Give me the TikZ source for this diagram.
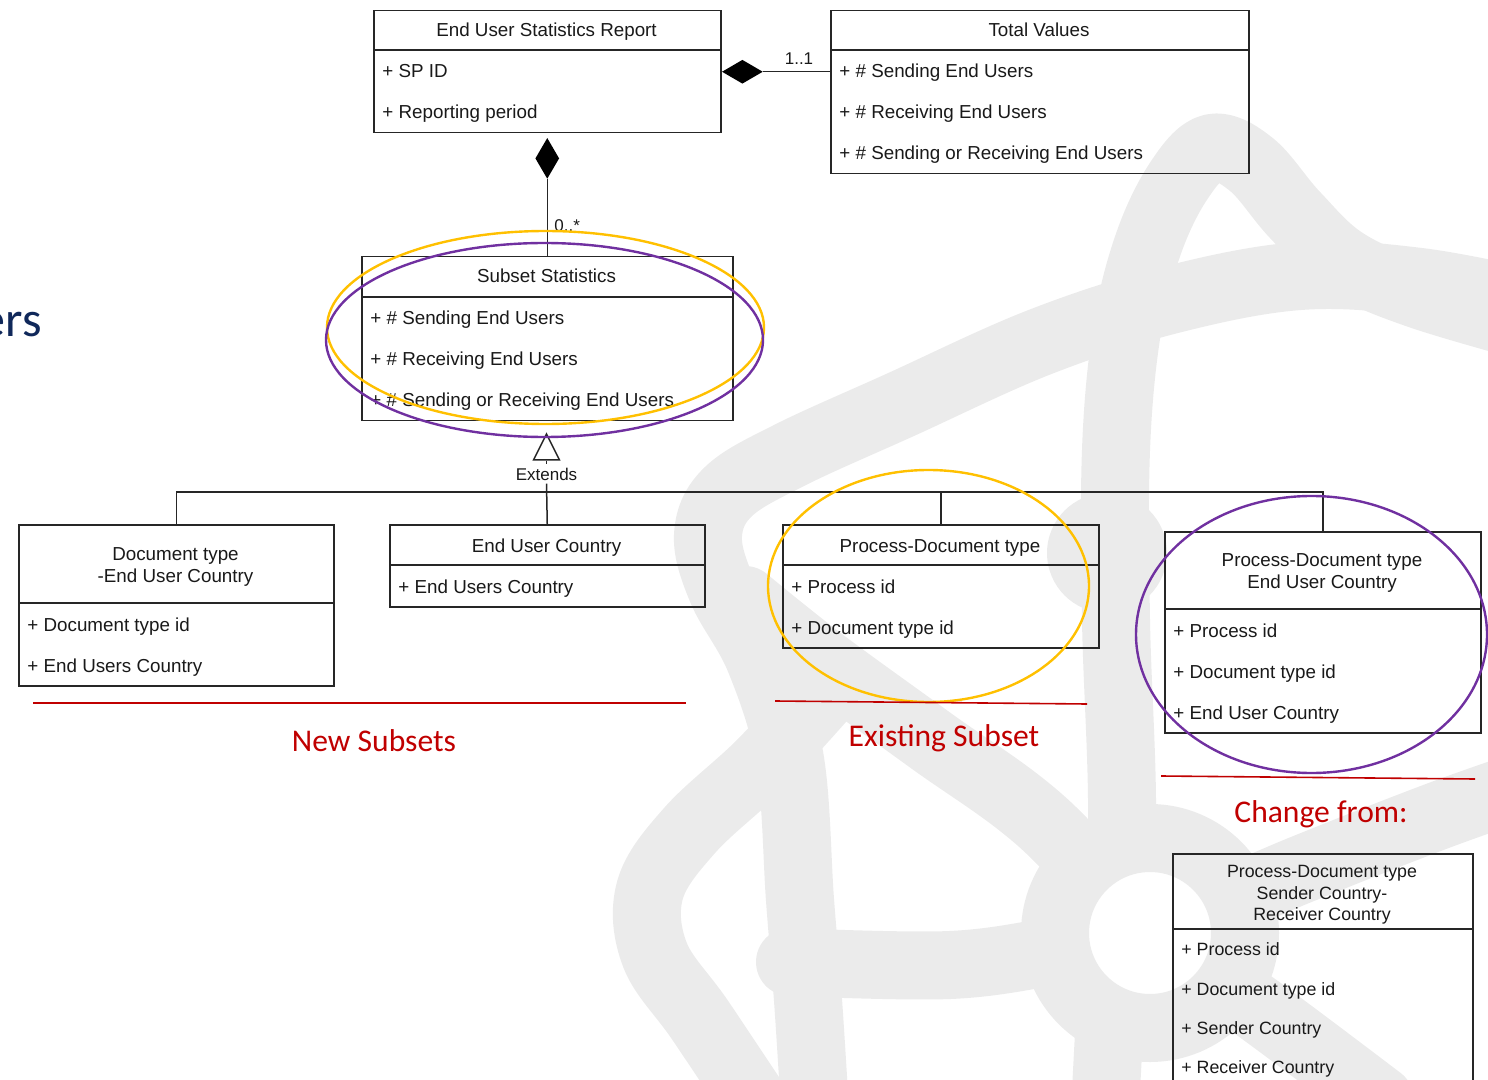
\documentclass[tikz,border=0pt]{standalone}
\usepackage{fontspec}
\setmainfont{Liberation Sans}
\newfontfamily\calfont{Carlito}
\usetikzlibrary{shapes.geometric,calc}
\definecolor{wm}{HTML}{EBEBEB}
\definecolor{redc}{HTML}{C00000}
\definecolor{purp}{HTML}{7030A0}
\definecolor{yel}{HTML}{FFC000}
\definecolor{navy}{HTML}{10285A}
\tikzset{
  umlbox/.style={draw=black!85, line width=0.75pt, rectangle, inner sep=0, anchor=north west},
  divider/.style={draw=black!85, line width=0.75pt},
  conn/.style={draw=black!85, line width=0.75pt},
  hdr/.style={anchor=base, inner sep=0, font=\fontsize{9.4}{11}\selectfont, text=black!90},
  attr/.style={anchor=base west, inner sep=0, font=\fontsize{9.4}{11}\selectfont, text=black!90},
  shdr/.style={anchor=base, inner sep=0, font=\fontsize{8.9}{10}\selectfont, text=black!90},
  sattr/.style={anchor=base west, inner sep=0, font=\fontsize{8.9}{10}\selectfont, text=black!90},
  lbl/.style={inner sep=0, font=\fontsize{8.5}{10}\selectfont, text=black!90},
  redtxt/.style={anchor=base, inner sep=0, font=\calfont\fontsize{15.8}{18}\selectfont, text=redc},
  redline/.style={draw=redc, line width=0.8pt},
  wmband/.style={draw=wm, line width=34pt, line cap=round, line join=round},
  hilite/.style={ellipse, inner sep=0, line width=1.2pt},
}
\begin{document}
\begin{tikzpicture}[x=0.5pt,y=-0.5pt]
\useasboundingbox (0,0) rectangle (1488,1080);

% ---- watermark (atom logo) ----
\draw[wmband] plot[smooth, tension=0.6] coordinates {(1105,1110) (1112,980) (1122,820) (1116,620) (1116,450) (1127,330) (1148,245) (1178,182) (1212,148) (1252,165) (1295,215) (1345,262) (1420,295) (1540,330)};
\draw[wmband] plot[smooth, tension=0.6] coordinates {(1540,305) (1420,282) (1300,276) (1170,300) (1040,342) (900,405) (790,455) (728,492) (708,535) (722,590) (760,660) (790,760) (800,900) (808,1000) (815,1110)};
\draw[wmband] plot[smooth, tension=0.6] coordinates {(745,600) (820,660) (930,740) (1040,820) (1150,933) (1260,1010) (1380,1100)};
\draw[wmband] plot[smooth, tension=0.6] coordinates {(820,700) (760,765) (690,830) (650,890) (655,955) (700,1020) (760,1110)};
\draw[wmband] plot[smooth, tension=0.6] coordinates {(790,962) (950,965) (1060,950) (1150,933) (1300,870) (1440,815) (1540,780)};
\fill[wm] (1107,553) circle[radius=30pt];
\draw[wm, line width=34pt, fill=white] (1150,933) circle[radius=47.5pt];

% ---- cut-off title text at left ----
\node[anchor=base east, inner sep=0, font=\calfont\fontsize{25}{28}\selectfont, text=navy] (title) at (42,337) {ers};

% ---- class boxes ----
\node[umlbox, minimum width=173.5pt, minimum height=61pt] (b1) at (373,10) {};
\draw[divider] (373,50) -- (720,50);
\node[hdr] (b1h) at (546.5,37) {End User Statistics Report};
\node[attr] (b1a) at (382,78) {+ SP ID};
\node[attr] (b1b) at (382,119) {+ Reporting period};

\node[umlbox, minimum width=209pt, minimum height=81.5pt] (b2) at (830,10) {};
\draw[divider] (830,50) -- (1248,50);
\node[hdr] (b2h) at (1039,37) {Total Values};
\node[attr] (b2a) at (839,78) {+ \# Sending End Users};
\node[attr] (b2b) at (839,119) {+ \# Receiving End Users};
\node[attr] (b2c) at (839,160) {+ \# Sending or Receiving End Users};

\node[umlbox, minimum width=185.5pt, minimum height=82pt] (b3) at (361,256) {};
\draw[divider] (361,297) -- (732,297);
\node[hdr] (b3h) at (546.5,283) {Subset Statistics};
\node[attr] (b3a) at (370,325) {+ \# Sending End Users};
\node[attr] (b3b) at (370,366) {+ \# Receiving End Users};
\node[attr] (b3c) at (370,407) {+ \# Sending or Receiving End Users};

\node[umlbox, minimum width=157.5pt, minimum height=80.5pt] (b4) at (18,524) {};
\draw[divider] (18,603) -- (333,603);
\node[hdr] (b4h1) at (175.5,560) {Document type};
\node[hdr] (b4h2) at (175.5,582) {-End User Country};
\node[attr] (b4a) at (27,631) {+ Document type id};
\node[attr] (b4b) at (27,672) {+ End Users Country};

\node[umlbox, minimum width=157.5pt, minimum height=41pt] (b5) at (389,524) {};
\draw[divider] (389,565) -- (704,565);
\node[hdr] (b5h) at (546.5,552) {End User Country};
\node[attr] (b5a) at (398,593) {+ End Users Country};

\node[umlbox, minimum width=158pt, minimum height=61.5pt] (b6) at (782,524) {};
\draw[divider] (782,565) -- (1098,565);
\node[hdr] (b6h) at (940,552) {Process-Document type};
\node[attr] (b6a) at (791,593) {+ Process id};
\node[attr] (b6b) at (791,634) {+ Document type id};

\node[umlbox, minimum width=158pt, minimum height=100.5pt] (b7) at (1164,531) {};
\draw[divider] (1164,609) -- (1480,609);
\node[hdr] (b7h1) at (1322,566) {Process-Document type};
\node[hdr] (b7h2) at (1322,588) {End User Country};
\node[attr] (b7a) at (1173,637) {+ Process id};
\node[attr] (b7b) at (1173,678) {+ Document type id};
\node[attr] (b7c) at (1173,719) {+ End User Country};

\node[umlbox, minimum width=150pt, minimum height=125pt] (b8) at (1172,853) {};
\draw[divider] (1172,929) -- (1472,929);
\node[shdr] (b8h1) at (1322,877) {Process-Document type};
\node[shdr] (b8h2) at (1322,899) {Sender Country-};
\node[shdr] (b8h3) at (1322,920) {Receiver Country};
\node[sattr] (b8a) at (1181,955) {+ Process id};
\node[sattr] (b8b) at (1181,995) {+ Document type id};
\node[sattr] (b8c) at (1181,1034) {+ Sender Country};
\node[sattr] (b8d) at (1181,1073) {+ Receiver Country};

% ---- composition connectors ----
\node[diamond, fill=black, inner sep=0, minimum width=20.5pt, minimum height=12pt, anchor=west] (d1) at (b1.east) {};
\draw[conn] (d1.east) -- (d1.east -| b2.west);
\node[lbl, anchor=base] (m1) at (799,65) {1..1};

\node[diamond, fill=black, inner sep=0, minimum width=12pt, minimum height=20.5pt, anchor=north] (d2) at ([yshift=-2pt]b1.south) {};
\draw[conn] (d2.south) -- (b3.north);
\node[lbl, anchor=base west] (m2) at (554,232) {0..*};

% ---- generalisation ----
\node[isosceles triangle, draw=black!85, line width=0.75pt, fill=white, shape border rotate=90, isosceles triangle stretches, minimum width=13pt, minimum height=13pt, inner sep=0, anchor=apex] (tri) at (546.5,432) {};
\node[lbl, inner sep=1.5pt] (ext) at (546.5,474) {Extends};
\coordinate (bus) at (546.5,492);
\draw[conn] (tri.lower side) -- (ext.north);
\draw[conn] (ext.south) -- (b5.north);
\draw[conn] (b4.north) -- (b4.north |- bus) -- (b7.north |- bus) -- (b7.north);
\draw[conn] (b6.north |- bus) -- (b6.north);

% ---- highlight ellipses ----
\node[hilite, draw=yel, minimum width=218.5pt, minimum height=96.5pt] (e1) at (545.5,327.5) {};
\node[hilite, draw=purp, minimum width=218.5pt, minimum height=97pt] (e2) at (544.5,340) {};
\node[hilite, draw=yel, minimum width=160.5pt, minimum height=116pt] (e3) at (928.5,586) {};
\node[hilite, draw=purp, minimum width=175.5pt, minimum height=138.5pt] (e4) at (1311.5,634.5) {};

% ---- red section labels ----
\draw[redline] (33,703) -- (686,703);
\draw[redline] (775,701) -- (1087,704);
\draw[redline] (1161,776) -- (1475,779);
\node[redtxt] (t1) at (374,751) {New Subsets};
\node[redtxt] (t2) at (944,746) {Existing Subset};
\node[redtxt] (t3) at (1321,822) {Change from:};
\end{tikzpicture}
\end{document}
